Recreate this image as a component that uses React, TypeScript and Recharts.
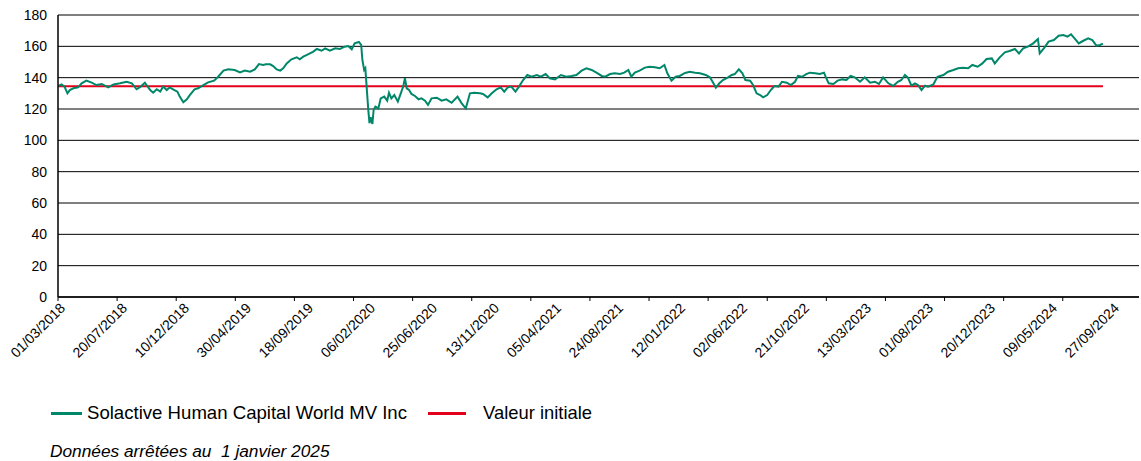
import React from 'react';
import { LineChart, Line, XAxis, YAxis, CartesianGrid } from 'recharts';

// x = trading-day index counted from 01/03/2018, y = index level
const tradingDay = [
  0, 6, 11, 16, 20, 26, 34, 40, 48, 57, 65, 74, 85, 94, 105, 116, 125, 133, 140, 147,
  156, 161, 167, 173, 178, 184, 189, 197, 202, 206, 212, 218, 223, 231, 237, 246, 254, 264, 271, 280,
  288, 299, 308, 316, 325, 333, 340, 347, 352, 359, 364, 370, 376, 381, 387, 395, 404, 409, 415, 423,
  432, 438, 446, 452, 460, 469, 477, 485, 491, 497, 502, 509, 513, 515, 518, 520, 523, 525, 527, 529,
  532, 534, 537, 542, 546, 552, 557, 560, 564, 569, 575, 580, 584, 587, 590, 594, 598, 604, 610, 615,
  621, 626, 632, 641, 649, 657, 666, 676, 683, 690, 697, 704, 714, 719, 727, 734, 742, 749, 755, 761,
  767, 774, 780, 787, 794, 801, 810, 817, 825, 832, 841, 851, 860, 869, 877, 886, 894, 903, 911, 920,
  926, 934, 942, 951, 958, 965, 970, 976, 984, 993, 1001, 1010, 1018, 1026, 1031, 1038, 1045, 1052, 1061, 1069,
  1078, 1086, 1096, 1103, 1109, 1113, 1119, 1125, 1133, 1140, 1145, 1152, 1158, 1163, 1171, 1176, 1182, 1188, 1193, 1200,
  1206, 1212, 1219, 1225, 1233, 1240, 1247, 1252, 1259, 1266, 1272, 1281, 1289, 1296, 1300, 1304, 1312, 1319, 1327, 1334,
  1341, 1348, 1357, 1365, 1374, 1382, 1389, 1396, 1405, 1413, 1421, 1427, 1433, 1438, 1444, 1450, 1455, 1461, 1467, 1472,
  1481, 1488, 1498, 1506, 1515, 1523, 1531, 1540, 1547, 1556, 1564, 1571, 1580, 1585, 1593, 1602, 1610, 1619, 1626, 1633,
  1641, 1650, 1658, 1661, 1668, 1676, 1685, 1693, 1701, 1708, 1714, 1720, 1727, 1734, 1743, 1750, 1757, 1763, 1768,
];

const indexLevel = [
  134.6, 135.7, 134.3, 130.0, 132.1, 133.2, 133.8, 136.4, 138.1, 136.8, 135.3, 136.0, 133.8, 135.7, 136.4, 137.4, 136.4, 132.6, 134.3, 136.8,
  132.1, 130.4, 132.6, 131.1, 134.3, 132.1, 133.8, 132.1, 131.1, 127.9, 124.3, 126.2, 128.9, 132.6, 133.2, 135.3, 137.0, 138.1, 140.6, 144.5,
  145.3, 144.9, 143.4, 144.5, 143.8, 145.3, 148.7, 148.1, 148.6, 148.5, 147.4, 145.3, 144.5, 146.0, 149.1, 151.7, 153.0, 151.7, 153.4, 154.9,
  156.6, 158.3, 157.2, 158.7, 157.2, 158.7, 158.3, 159.8, 160.2, 158.1, 161.9, 162.8, 160.9, 151.3, 144.9, 146.0, 130.0, 119.4, 110.9, 114.7,
  110.4, 119.4, 121.5, 120.4, 126.8, 127.9, 125.3, 130.4, 126.8, 128.9, 124.7, 130.0, 134.3, 139.6, 133.2, 132.1, 129.6, 128.3, 126.2, 126.8,
  125.3, 122.6, 126.8, 127.2, 125.3, 126.2, 124.0, 127.9, 123.6, 120.4, 130.0, 130.4, 130.0, 129.6, 127.4, 130.0, 132.6, 133.8, 131.1, 133.8,
  134.3, 131.1, 134.3, 138.5, 141.7, 140.6, 141.7, 140.6, 142.3, 139.6, 138.9, 141.7, 140.6, 141.1, 141.7, 144.5, 146.0, 144.9, 143.2, 141.1,
  140.6, 142.3, 142.8, 142.3, 143.2, 144.9, 140.6, 143.2, 144.5, 146.4, 147.0, 146.6, 146.0, 148.1, 142.8, 138.1, 140.6, 141.1, 143.0, 143.8,
  143.2, 142.8, 141.7, 140.2, 136.4, 133.6, 136.4, 138.5, 140.0, 141.7, 142.3, 145.3, 142.8, 138.5, 138.1, 135.3, 130.0, 128.9, 127.4, 128.9,
  132.1, 134.7, 134.3, 137.4, 136.8, 135.3, 137.4, 141.1, 140.6, 142.3, 143.2, 142.8, 142.3, 143.2, 139.6, 136.4, 136.0, 138.1, 138.9, 138.5,
  141.1, 140.2, 137.4, 140.2, 136.8, 137.4, 136.0, 140.2, 136.4, 134.7, 137.4, 138.5, 141.7, 140.0, 134.9, 136.4, 135.3, 132.1, 134.9, 134.3,
  135.7, 140.6, 141.7, 143.8, 144.9, 146.0, 146.4, 146.0, 148.1, 147.0, 149.1, 151.9, 152.3, 149.1, 152.8, 156.2, 157.0, 158.3, 155.5, 158.7,
  159.8, 161.9, 164.7, 155.5, 158.7, 163.0, 164.0, 166.8, 167.2, 166.2, 167.7, 165.1, 161.9, 163.4, 165.1, 164.0, 160.4, 160.9, 161.7,
];

const initialValue = 134.6;

const tickDays = [0, 100, 200, 300, 400, 500, 600, 700, 800, 900, 1000, 1100, 1200, 1300, 1400, 1500, 1600, 1700];
const dateLabels = [
  '01/03/2018', '20/07/2018', '10/12/2018', '30/04/2019', '18/09/2019', '06/02/2020',
  '25/06/2020', '13/11/2020', '05/04/2021', '24/08/2021', '12/01/2022', '02/06/2022',
  '21/10/2022', '13/03/2023', '01/08/2023', '20/12/2023', '09/05/2024', '27/09/2024',
];
const yTicks = [0, 20, 40, 60, 80, 100, 120, 140, 160, 180];

// legend label as printed in the source (cut short there)
const indexName = 'Solactive Human Capital World MV Inc';
const initialName = 'Valeur initiale';

const GREEN = '#00876A';
const RED = '#E2001A';
const FONT = 'Arial, "Liberation Sans", sans-serif';

const series = tradingDay.map((day, i) => ({ day, level: indexLevel[i] }));
const baseline = [
  { day: tradingDay[0], level: initialValue },
  { day: tradingDay[tradingDay.length - 1], level: initialValue },
];

function DateTick({ x, y, payload }: { x?: number; y?: number; payload?: { value: number } }) {
  const i = tickDays.indexOf(payload?.value ?? 0);
  const ax = (x ?? 0) + 8 + i * 2.9;
  const ay = (y ?? 0) + 6;
  return (
    <text
      x={ax}
      y={ay}
      textAnchor="end"
      transform={`rotate(-45, ${ax}, ${ay})`}
      fontSize={14}
      fontFamily={FONT}
      fill="#000"
    >
      {dateLabels[i]}
    </text>
  );
}

export default function App() {
  return (
    <div style={{ position: 'absolute', left: 0, top: 0, width: 1141, height: 461, background: '#fff', fontFamily: FONT }}>
      <LineChart width={1141} height={380} margin={{ top: 15, right: 2, left: 0, bottom: 0 }}>
        <CartesianGrid vertical={false} stroke="#000" strokeWidth={1} />
        <XAxis
          type="number"
          dataKey="day"
          domain={[0, 1829]}
          ticks={tickDays}
          interval={0}
          height={83}
          tickSize={4}
          axisLine={{ stroke: '#000', strokeWidth: 1.5 }}
          tickLine={{ stroke: '#000' }}
          tick={<DateTick />}
          allowDataOverflow
        />
        <YAxis
          type="number"
          domain={[0, 180]}
          ticks={yTicks}
          interval={0}
          width={58}
          tickLine={false}
          tickMargin={5}
          axisLine={{ stroke: '#000', strokeWidth: 1.5 }}
          tick={{ fill: '#000', fontSize: 14, fontFamily: FONT }}
        />
        <Line
          data={baseline}
          dataKey="level"
          name={initialName}
          type="linear"
          stroke={RED}
          strokeWidth={2}
          dot={false}
          isAnimationActive={false}
        />
        <Line
          data={series}
          dataKey="level"
          name={indexName}
          type="linear"
          stroke={GREEN}
          strokeWidth={2}
          dot={false}
          isAnimationActive={false}
        />
      </LineChart>

      <div style={{ position: 'absolute', left: 51, top: 412, width: 31, height: 3, background: GREEN }} />
      <div style={{ position: 'absolute', left: 87, top: 403, fontSize: 18.6, lineHeight: '20px', color: '#000', whiteSpace: 'nowrap' }}>
        {indexName}
      </div>
      <div style={{ position: 'absolute', left: 428, top: 412, width: 38, height: 3, background: RED }} />
      <div style={{ position: 'absolute', left: 483, top: 403, fontSize: 18.4, lineHeight: '20px', color: '#000', whiteSpace: 'nowrap' }}>
        {initialName}
      </div>

      <div
        style={{
          position: 'absolute', left: 50, top: 442, fontSize: 17.3, lineHeight: '19px',
          fontStyle: 'italic', color: '#000', whiteSpace: 'nowrap',
        }}
      >
        Données arrêtées au&nbsp; 1 janvier 2025
      </div>
    </div>
  );
}
